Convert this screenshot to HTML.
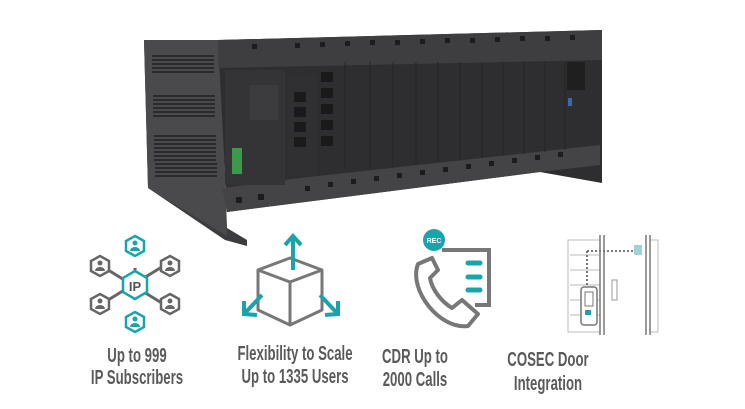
<!DOCTYPE html>
<html><head><style>
body{margin:0;background:#fff;width:745px;height:409px;overflow:hidden}
svg{display:block}
.t{font-family:"Liberation Sans",sans-serif;font-size:20px;font-weight:bold;fill:#5a5a5a}
</style></head><body>
<svg width="745" height="409" viewBox="0 0 745 409" xmlns="http://www.w3.org/2000/svg">
<!-- device -->
<polygon points="144,40 220,40 227,228 247,240 247,246 225,240 148,188" fill="#3c3c3e"/>
<polygon points="144,40 220,40 227,236 148,188" fill="#4a4a4c"/>
<g fill="#2a2a2c">
<rect x="152" y="55" width="62" height="2"/><rect x="152" y="59" width="62" height="2"/><rect x="152" y="63" width="62" height="2"/><rect x="152" y="67" width="62" height="2"/><rect x="152" y="71" width="62" height="2"/>
<rect x="153" y="95" width="62" height="2"/><rect x="153" y="99" width="62" height="2"/><rect x="153" y="103" width="62" height="2"/><rect x="153" y="107" width="62" height="2"/><rect x="153" y="111" width="62" height="2"/><rect x="153" y="115" width="62" height="2"/>
<rect x="154" y="135" width="62" height="2"/><rect x="154" y="139" width="62" height="2"/><rect x="154" y="143" width="62" height="2"/><rect x="154" y="147" width="62" height="2"/><rect x="154" y="151" width="62" height="2"/><rect x="154" y="155" width="62" height="2"/><rect x="154" y="159" width="62" height="2"/><rect x="155" y="163" width="62" height="2"/><rect x="155" y="167" width="62" height="2"/><rect x="155" y="171" width="62" height="2"/><rect x="155" y="175" width="62" height="2"/>
</g>
<polygon points="218,40 602,30 602,183 540,172 227,212" fill="#2e2e30"/>
<polygon points="218,40 602,30 602,60 218,68" fill="#3e3e40"/>
<g fill="#1c1c1c">
<rect x="252" y="44" width="5" height="5"/><rect x="295" y="43" width="5" height="5"/><rect x="320" y="42" width="5" height="5"/><rect x="345" y="41" width="5" height="5"/><rect x="370" y="40" width="5" height="5"/><rect x="395" y="40" width="5" height="5"/><rect x="420" y="39" width="5" height="5"/><rect x="445" y="38" width="5" height="5"/><rect x="470" y="38" width="5" height="5"/><rect x="495" y="37" width="5" height="5"/><rect x="520" y="36" width="5" height="5"/><rect x="545" y="36" width="5" height="5"/><rect x="570" y="35" width="5" height="5"/>
</g>
<polygon points="222,188 300,178 600,145 600,165 540,172 227,212" fill="#444446"/>
<g fill="#1c1c1c">
<rect x="236" y="197" width="6" height="6"/><rect x="258" y="194" width="6" height="6"/><rect x="305" y="186" width="5" height="5"/><rect x="328" y="182" width="5" height="5"/><rect x="351" y="179" width="5" height="5"/><rect x="374" y="176" width="5" height="5"/><rect x="397" y="173" width="5" height="5"/><rect x="420" y="170" width="5" height="5"/><rect x="443" y="167" width="5" height="5"/><rect x="466" y="164" width="5" height="5"/><rect x="489" y="161" width="5" height="5"/><rect x="512" y="158" width="5" height="5"/><rect x="535" y="155" width="5" height="5"/><rect x="558" y="152" width="5" height="5"/>
</g>
<rect x="225" y="70" width="60" height="115" fill="#343436"/>
<rect x="232" y="148" width="10" height="26" fill="#3a9a4a"/>
<rect x="250" y="85" width="28" height="35" fill="#3c3c3e"/>
<rect x="288" y="75" width="30" height="100" fill="#303032"/>
<g fill="#1a1a1a">
<rect x="294" y="92" width="12" height="10"/><rect x="294" y="107" width="12" height="10"/><rect x="294" y="122" width="12" height="10"/><rect x="294" y="137" width="12" height="10"/>
<rect x="321" y="72" width="12" height="10"/><rect x="321" y="88" width="12" height="10"/><rect x="321" y="104" width="12" height="10"/><rect x="321" y="120" width="12" height="10"/><rect x="321" y="136" width="12" height="10"/>
</g>
<g stroke="#242426" stroke-width="1">
<line x1="345" y1="62" x2="345" y2="170"/><line x1="370" y1="62" x2="370" y2="168"/><line x1="393" y1="62" x2="393" y2="166"/><line x1="416" y1="62" x2="416" y2="164"/><line x1="438" y1="62" x2="438" y2="162"/><line x1="460" y1="62" x2="460" y2="160"/><line x1="482" y1="62" x2="482" y2="158"/><line x1="503" y1="62" x2="503" y2="156"/><line x1="524" y1="62" x2="524" y2="154"/><line x1="545" y1="62" x2="545" y2="152"/><line x1="565" y1="62" x2="565" y2="150"/>
</g>
<rect x="567" y="62" width="18" height="28" fill="#1f1f1f"/>
<rect x="568" y="98" width="4" height="8" fill="#3a6ab0"/>
<!-- icon 1 -->
<g stroke="#666" stroke-width="3" fill="none">
<line x1="135" y1="268" x2="135" y2="300"/><line x1="100" y1="265" x2="165" y2="305"/><line x1="100" y1="305" x2="165" y2="265"/>
</g>
<g fill="#fff" stroke="#666" stroke-width="2.5">
<polygon points="100,256 109,261 109,271 100,276 91,271 91,261"/>
<polygon points="170,256 179,261 179,271 170,276 161,271 161,261"/>
<polygon points="100,294 109,299 109,309 100,314 91,309 91,299"/>
<polygon points="170,294 179,299 179,309 170,314 161,309 161,299"/>
</g>
<g fill="#fff" stroke="#1aa3a8" stroke-width="2.5">
<polygon points="135,236 144,241 144,251 135,256 126,251 126,241"/>
<polygon points="135,312 144,317 144,327 135,332 126,327 126,317"/>
<polygon points="135,271 147,278 147,292 135,299 123,292 123,278"/>
</g>
<g fill="#666"><circle cx="100" cy="263" r="2.5"/><path d="M95,271 a5,4 0 0 1 10,0z"/><circle cx="170" cy="263" r="2.5"/><path d="M165,271 a5,4 0 0 1 10,0z"/><circle cx="100" cy="301" r="2.5"/><path d="M95,309 a5,4 0 0 1 10,0z"/><circle cx="170" cy="301" r="2.5"/><path d="M165,309 a5,4 0 0 1 10,0z"/></g>
<g fill="#1aa3a8"><circle cx="135" cy="243" r="2.5"/><path d="M130,251 a5,4 0 0 1 10,0z"/><circle cx="135" cy="319" r="2.5"/><path d="M130,327 a5,4 0 0 1 10,0z"/></g>
<text x="135" y="291" text-anchor="middle" style="font-family:'Liberation Sans',sans-serif;font-size:13px;font-weight:bold;fill:#555">IP</text>
<!-- icon 2 -->
<g stroke="#777" stroke-width="3" fill="none" stroke-linejoin="round">
<polygon points="258,270 290,258 322,270 322,310 290,325 258,310"/>
<polyline points="258,270 290,282 322,270"/><line x1="290" y1="282" x2="290" y2="325"/>
</g>
<g stroke="#1aa3a8" stroke-width="4" fill="none">
<line x1="293" y1="270" x2="293" y2="237"/><polyline points="285,245 293,236 301,245"/>
<line x1="262" y1="295" x2="246" y2="312"/><polyline points="244,301 244,314 257,315"/>
<line x1="320" y1="295" x2="336" y2="312"/><polyline points="338,301 338,314 325,315"/>
</g>
<!-- icon 3 -->
<circle cx="434" cy="240" r="11" fill="#1aa3a8"/>
<text x="434" y="243" text-anchor="middle" style="font-family:'Liberation Sans',sans-serif;font-size:7px;font-weight:bold;fill:#fff">REC</text>
<path d="M442,250 H489 V305 H475" stroke="#777" stroke-width="4" fill="none"/>
<g stroke="#1aa3a8" stroke-width="5" stroke-linecap="round"><line x1="468" y1="263" x2="480" y2="263"/><line x1="468" y1="277" x2="480" y2="277"/><line x1="468" y1="290" x2="480" y2="290"/></g>
<path d="M432,258 L418,264 C408,290 440,330 468,326 L478,314 L462,300 L452,308 C442,302 432,290 430,278 L438,270 Z" stroke="#777" stroke-width="4" fill="#fff" stroke-linejoin="round"/>
<!-- icon 4 -->
<g stroke="#bbb" stroke-width="1" fill="none">
<rect x="568" y="240" width="32" height="92"/><rect x="650" y="240" width="8" height="92"/>
<line x1="570" y1="255" x2="600" y2="255"/><line x1="570" y1="270" x2="600" y2="270"/><line x1="570" y1="285" x2="600" y2="285"/><line x1="570" y1="300" x2="600" y2="300"/><line x1="570" y1="315" x2="600" y2="315"/>
</g>
<g stroke="#777" stroke-width="1.5"><line x1="600" y1="235" x2="600" y2="335"/><line x1="604" y1="235" x2="604" y2="335"/><line x1="646" y1="235" x2="646" y2="335"/><line x1="650" y1="235" x2="650" y2="335"/></g>
<path d="M587,251 H634 M587,251 V285" stroke="#777" stroke-width="2" stroke-dasharray="2,2" fill="none"/>
<rect x="634" y="245" width="8" height="10" fill="#9fd4d6"/>
<rect x="581" y="287" width="16" height="38" rx="3" fill="#fff" stroke="#777" stroke-width="1.5"/>
<rect x="585" y="292" width="8" height="14" fill="#fff" stroke="#777"/>
<rect x="585" y="310" width="6" height="5" fill="#1aa3a8"/>
<rect x="612" y="280" width="5" height="20" fill="#fff" stroke="#999"/>
<!-- labels -->
<g class="t" text-anchor="middle">
<text transform="translate(137,362) scale(0.66,1)">Up to 999</text>
<text transform="translate(137,384) scale(0.66,1)">IP Subscribers</text>
<text transform="translate(295,360) scale(0.66,1)">Flexibility to Scale</text>
<text transform="translate(295,383) scale(0.66,1)">Up to 1335 Users</text>
<text transform="translate(415,363) scale(0.66,1)">CDR Up to</text>
<text transform="translate(415,386) scale(0.66,1)">2000 Calls</text>
<text transform="translate(548,366) scale(0.66,1)">COSEC Door</text>
<text transform="translate(548,390) scale(0.66,1)">Integration</text>
</g>
</svg>
</body></html>
